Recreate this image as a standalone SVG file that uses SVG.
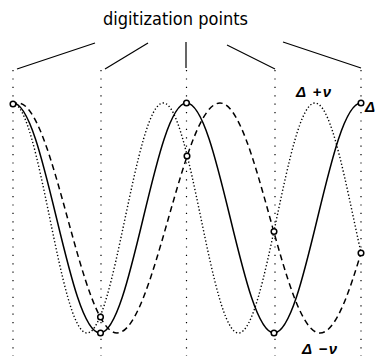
<svg xmlns="http://www.w3.org/2000/svg" width="375" height="356" viewBox="0 0 375 356">
<style>
.guide{stroke:#000;stroke-width:1.2;stroke-dasharray:1.2 7.2;fill:none}
.fan{stroke:#000;stroke-width:1.2;fill:none}
.solid{stroke:#000;stroke-width:1.5;fill:none}
.dash{stroke:#000;stroke-width:1.5;fill:none;stroke-dasharray:6 4}
.dot{stroke:#000;stroke-width:1.4;fill:none;stroke-dasharray:1.3 2.2}
.pt{stroke:#000;stroke-width:1.5;fill:#fff}
.lbl{font-family:'Liberation Sans','DejaVu Sans',sans-serif;font-style:italic;font-weight:bold;font-size:15px;fill:#000}
.title{font-family:'Liberation Sans Narrow','DejaVu Sans Condensed','Liberation Sans',sans-serif;font-size:17px;fill:#000}
</style>
<defs>
<clipPath id="clip"><rect x="13" y="0" width="348" height="356"/></clipPath>
</defs>
<rect width="375" height="356" fill="#fff"/>
<g id="title"><text class="title" x="103" y="25" textLength="145" lengthAdjust="spacingAndGlyphs">digitization points</text></g>
<g id="connectors">
<line class="fan" x1="95" y1="43" x2="17" y2="69"/>
<line class="fan" x1="148" y1="43" x2="105" y2="69"/>
<line class="fan" x1="186" y1="42" x2="186" y2="68"/>
<line class="fan" x1="227" y1="45" x2="275" y2="69"/>
<line class="fan" x1="283" y1="42" x2="361" y2="68"/>
<line class="guide" x1="13" y1="70" x2="13" y2="356"/>
<line class="guide" x1="101" y1="70" x2="101" y2="356"/>
<line class="guide" x1="186.5" y1="70" x2="186.5" y2="356"/>
<line class="guide" x1="275" y1="70" x2="275" y2="356"/>
<line class="guide" x1="361" y1="70" x2="361" y2="356"/>
</g>
<g id="curves" clip-path="url(#clip)">
<path id="curve-delta" class="solid" d="M13,103 C44.6,103 68.4,333 100,333 C131.4,333 155.1,103 186.5,103 C218.3,103 242.2,333 274,333 C305.6,333 329.4,103 361,103"/>
<path id="curve-delta-plus-nu" class="dot" d="M12.5,103 C39.6,103 59.9,333 87,333 C114.7,333 135.6,103 163.3,103 C190.6,103 211.2,333 238.5,333 C266.3,333 287.2,103 315,103 C343,103 364,333 392,333"/>
<path id="curve-delta-minus-nu" class="dash" d="M-81,333 C-45,333 -18,103 18,103 C54,103 81,333 117,333 C154.4,333 182.6,103 220,103 C256.3,103 283.7,333 320,333 C357.1,333 384.9,103 422,103"/>
</g>
<g id="samples">
<circle class="pt" cx="13" cy="104" r="2.8"/>
<circle class="pt" cx="100.5" cy="333" r="2.8"/>
<circle class="pt" cx="186.5" cy="103" r="2.8"/>
<circle class="pt" cx="274" cy="333" r="2.8"/>
<circle class="pt" cx="361" cy="103" r="2.8"/>
<circle class="pt" cx="100.5" cy="317" r="2.8"/>
<circle class="pt" cx="187" cy="156" r="2.8"/>
<circle class="pt" cx="274" cy="231.5" r="2.8"/>
<circle class="pt" cx="361" cy="253" r="2.8"/>
</g>
<g id="labels">
<text class="lbl" x="296" y="97" textLength="35" lengthAdjust="spacing">Δ +ν</text>
<text class="lbl" x="365" y="112">Δ</text>
<text class="lbl" x="302" y="354" textLength="35" lengthAdjust="spacing">Δ −ν</text>
</g>
</svg>
